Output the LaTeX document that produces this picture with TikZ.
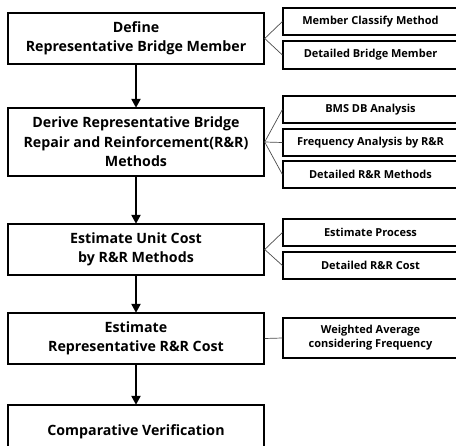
\documentclass[tikz,border=0pt]{standalone}
\usepackage{fontspec}
\setmainfont{Open Sans}
\usetikzlibrary{arrows.meta}
\begin{document}
\begin{tikzpicture}[x=1pt,y=-1pt,
  mainbox/.style={draw=black, line width=1.4pt, minimum width=256pt, align=center,
    font=\bfseries\fontsize{14.2pt}{19.5pt}\selectfont, inner sep=0pt},
  sidebox/.style={draw=black, line width=1.2pt, minimum width=175pt, align=center,
    font=\bfseries\fontsize{11pt}{14pt}\selectfont, inner sep=0pt},
  conn/.style={draw=black!70, line width=0.7pt},
  arr/.style={draw=black, line width=2.4pt, -{Triangle[length=9pt,width=9pt]}, shorten >=-0.5pt}
]
\useasboundingbox (0,0) rectangle (456,446);
\clip (0,0) rectangle (456,446);

% main boxes
\node[mainbox, minimum height=51pt] (b1) at (136,38.5) {Define\\Representative Bridge Member};
\node[mainbox, minimum height=68pt] (b2) at (136,142) {Derive Representative Bridge\\Repair and Reinforcement(R\&R)\\Methods};
\node[mainbox, minimum height=51pt] (b3) at (136,249.5) {Estimate Unit Cost\\by R\&R Methods};
\node[mainbox, minimum height=51pt] (b4) at (136,338.5) {Estimate\\Representative R\&R Cost};
\node[mainbox, minimum height=51pt, text depth=0pt] (b5) at (136,430.5) {Comparative Verification};

% side boxes
\node[sidebox, minimum height=27pt] (r1) at (370.5,21.5) {Member Classify Method};
\node[sidebox, minimum height=28pt] (r2) at (370.5,55) {Detailed Bridge Member};
\node[sidebox, minimum height=27pt] (r3) at (370.5,109.5) {BMS DB Analysis};
\node[sidebox, minimum height=27pt] (r4) at (370.5,142.5) {Frequency Analysis by R\&R};
\node[sidebox, minimum height=27pt] (r5) at (370.5,174.5) {Detailed R\&R Methods};
\node[sidebox, minimum height=27pt] (r6) at (370.5,232.5) {Estimate Process};
\node[sidebox, minimum height=27pt] (r7) at (370.5,265.5) {Detailed R\&R Cost};
\node[sidebox, minimum height=40pt] (r8) at (370.5,338) {Weighted Average\\considering Frequency};

% connectors
\draw[conn] (r1.west) -- (b1.east) -- (r2.west);
\draw[conn] (r3.west) -- (b2.east) -- (r5.west);
\draw[conn] (b2.east) -- (r4.west);
\draw[conn] (r6.west) -- (b3.east) -- (r7.west);
\draw[conn] (b4.east) -- (r8.west);

% arrows
\draw[arr] (b1.south) -- (b2.north);
\draw[arr] (b2.south) -- (b3.north);
\draw[arr] (b3.south) -- (b4.north);
\draw[arr] (b4.south) -- (b5.north);
\end{tikzpicture}
\end{document}
